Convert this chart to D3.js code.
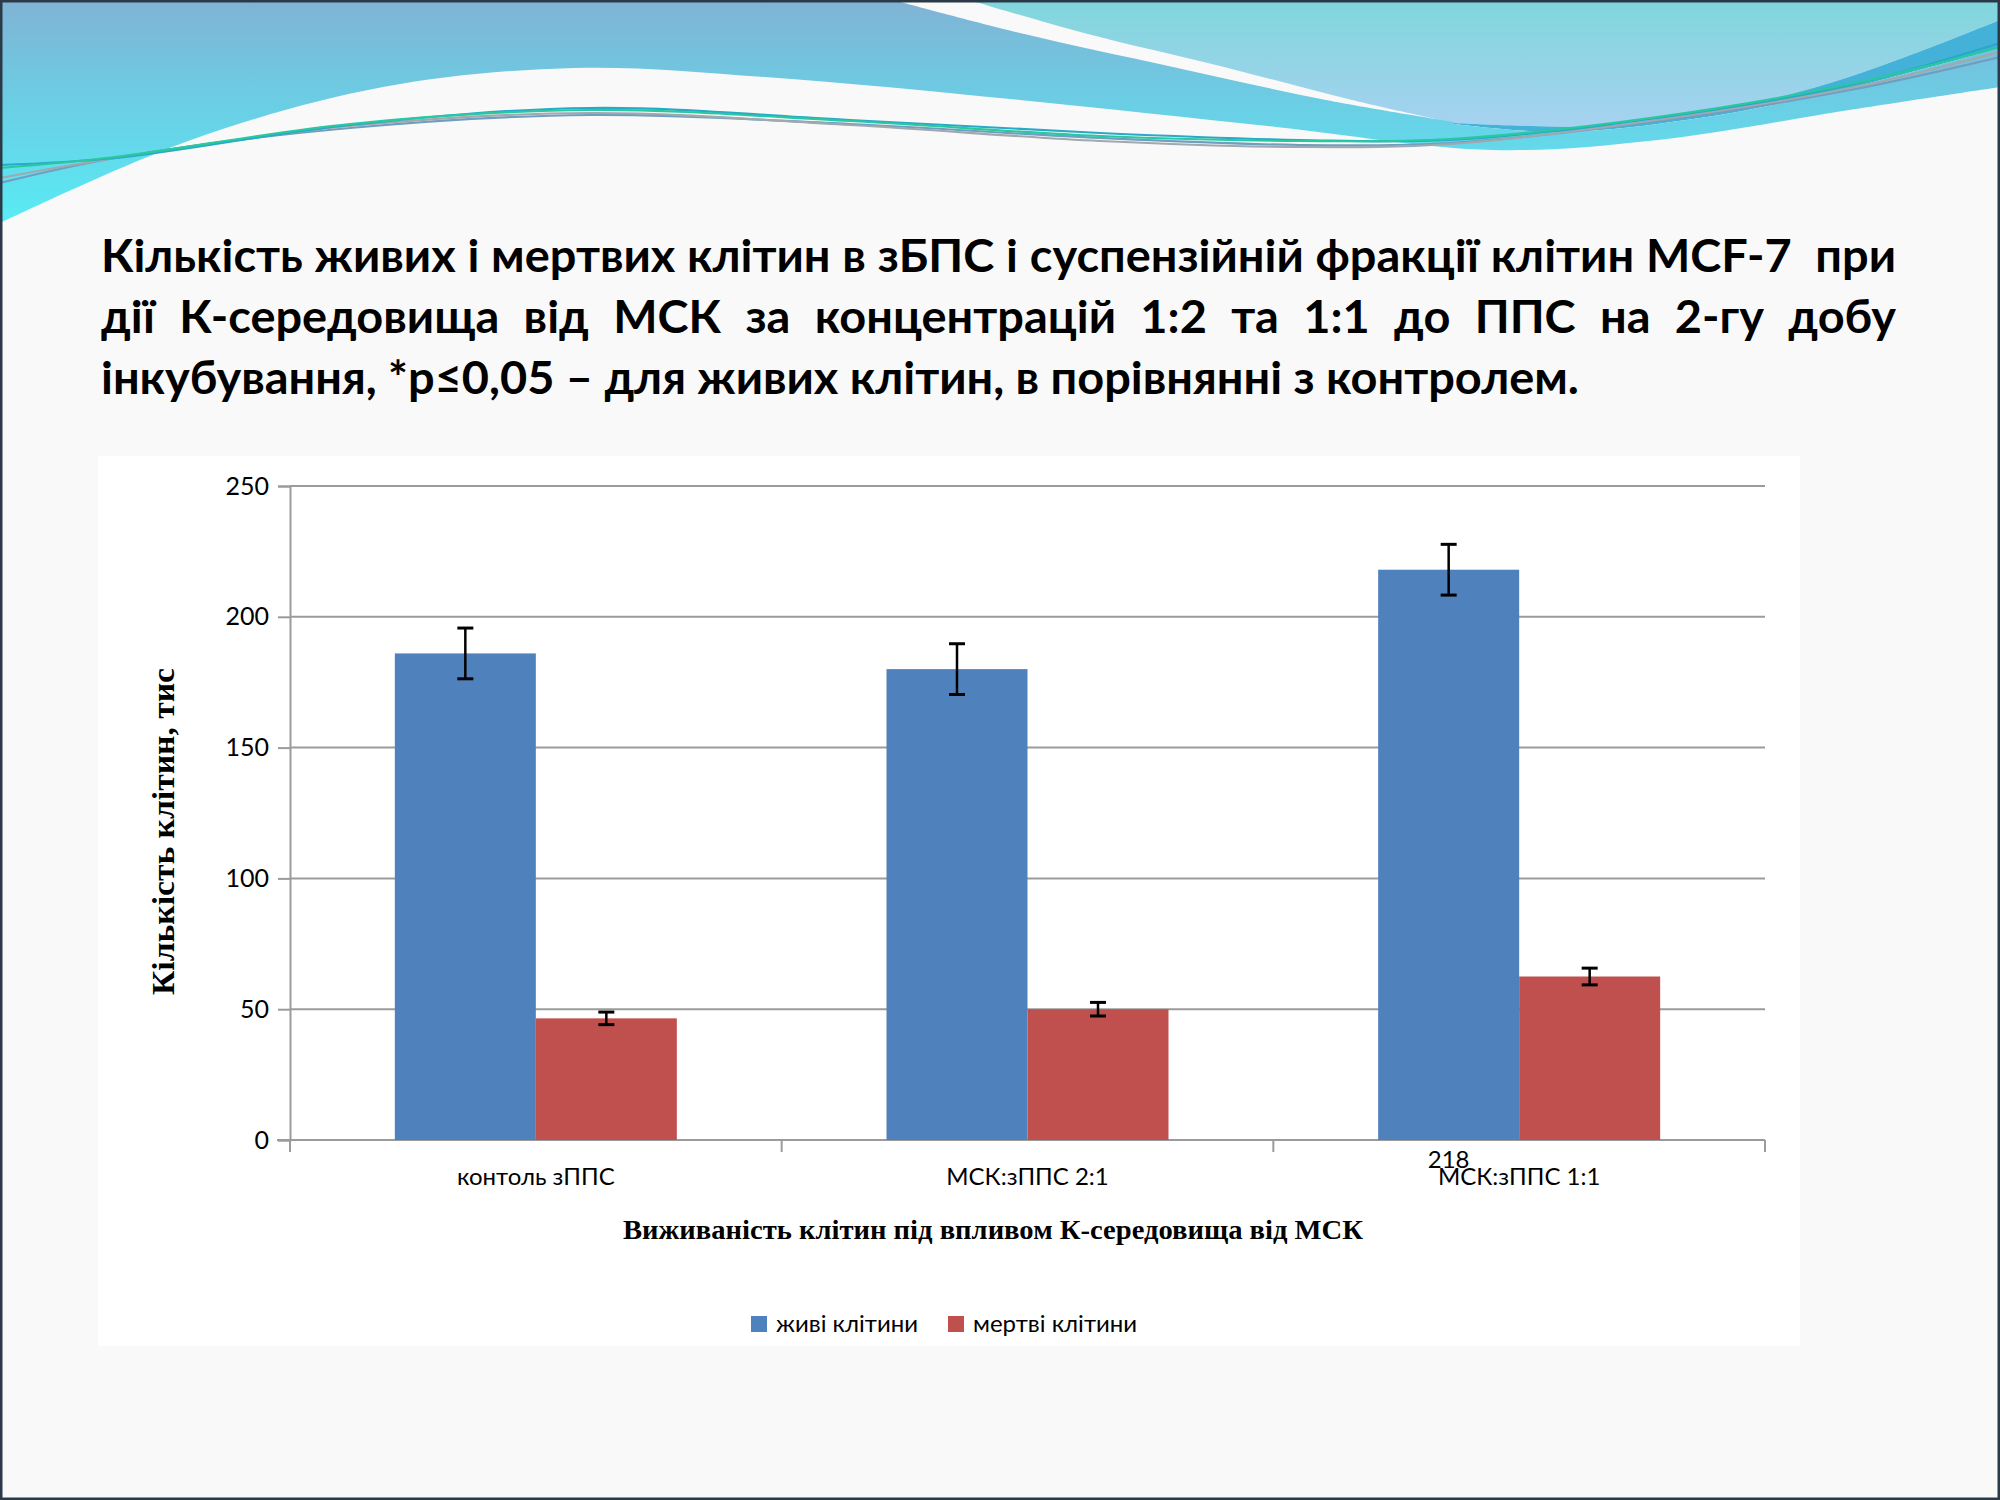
<!DOCTYPE html>
<html>
<head>
<meta charset="utf-8">
<script src="https://cdn.jsdelivr.net/npm/d3@7"></script>
<style>
  body { margin: 0; background: #fff; }
  svg { display: block; }
</style>
</head>
<body>
<div id="chart"></div>
<script>
// chart data
const categories = ["контоль зППС", "МСК:зППС 2:1", "МСК:зППС 1:1"];
const seriesNames = ["живі клітини", "мертві клітини"];
const liveCells = [186, 180, 218];
const liveErr = [9.7, 9.7, 9.7];
const deadCells = [46.5, 50, 62.5];
const deadErr = [2.4, 2.6, 3.2];
const yTicks = [0, 50, 100, 150, 200, 250];

const titleLines = [
  "Кількість живих і мертвих клітин в зБПС і суспензійній фракції клітин MCF-7  при",
  "дії  К-середовища  від  МСК  за  концентрацій  1:2  та  1:1  до  ППС  на  2-гу  добу",
  "інкубування, *p≤0,05 – для живих клітин, в порівнянні з контролем."
];
const yTitle = "Кількість клітин, тис";
const xTitle = "Виживаність клітин під впливом К-середовища від МСК";

const colors = ["#4f81bd", "#c0504d"];

const W = 2000, H = 1500;
const svg = d3.select("#chart").append("svg")
  .attr("width", W)
  .attr("height", H);

// slide background
svg.append("rect").attr("width", W).attr("height", H).attr("fill", "#f9f9f9");

// top wave decoration
const defs = svg.append("defs");
const gA = defs.append("linearGradient").attr("id", "gA")
  .attr("gradientUnits", "userSpaceOnUse")
  .attr("x1", 0).attr("y1", 0).attr("x2", 0).attr("y2", 223);
gA.append("stop").attr("offset", 0).attr("stop-color", "#80b3d4");
gA.append("stop").attr("offset", 0.45).attr("stop-color", "#6bcde4");
gA.append("stop").attr("offset", 1).attr("stop-color", "#58ecf5");
const gB = defs.append("linearGradient").attr("id", "gB")
  .attr("gradientUnits", "userSpaceOnUse")
  .attr("x1", 0).attr("y1", 0).attr("x2", 0).attr("y2", 126);
gB.append("stop").attr("offset", 0).attr("stop-color", "#80d6dc");
gB.append("stop").attr("offset", 1).attr("stop-color", "#a6d2f0");

const waveBottom = [[0, 223], [191, 140], [383, 87], [574, 68], [765, 77], [1020, 100], [1276, 127], [1492, 150], [1658, 140], [1849, 110], [2000, 87]];
const edgeA = [[893, 0], [1020, 33], [1173, 67], [1326, 100], [1454, 122]];
const edgeB = [[969, 0], [1084, 33], [1224, 67], [1352, 100], [1454, 123]];
const edgeBlow = [[1454, 123], [1531, 126], [1594, 126], [1722, 110], [1849, 77], [2000, 20]];
const edgeClow = [[1454, 124], [1560, 132], [1700, 118], [1849, 88], [2000, 48]];
const waveLines = [
  { c: "#6f9fc0", p: [[0, 183], [115, 158], [350, 128], [590, 115], [850, 124], [1100, 138], [1300, 145], [1450, 143], [1650, 122], [1850, 90], [2000, 57]] },
  { c: "#a0a8b0", p: [[0, 178], [115, 158], [350, 126], [590, 113], [850, 125], [1100, 141], [1300, 147], [1450, 144], [1650, 121], [1850, 88], [2000, 52]] },
  { c: "#2aa8c8", p: [[0, 165], [115, 158], [350, 125], [590, 108], [850, 120], [1100, 133], [1300, 140], [1450, 140], [1650, 119], [1850, 85], [2000, 43]] },
  { c: "#28c8a0", p: [[0, 168], [115, 157], [350, 124], [590, 110], [850, 121], [1100, 136], [1300, 141], [1450, 139], [1650, 118], [1850, 84], [2000, 47]] }
];

const curve = d3.line().curve(d3.curveCatmullRom);
const seg = pts => curve(pts).slice(1); // drop the leading M

const deco = svg.append("g");
deco.append("path")
  .attr("d", "M969,0L2000,0L" + seg(edgeBlow.slice().reverse()) + "L" + seg(edgeB.slice().reverse()) + "Z")
  .attr("fill", "url(#gB)");
deco.append("path")
  .attr("d", "M" + seg(edgeBlow) + "L" + seg(edgeClow.slice().reverse()) + "Z")
  .attr("fill", "#44b2d8");
deco.append("path")
  .attr("d", "M0,0L" + seg(edgeA) + "L" + seg(edgeClow) + "L" + seg(waveBottom.slice().reverse()) + "Z")
  .attr("fill", "url(#gA)");
deco.selectAll("path.wl")
  .data(waveLines)
  .enter()
  .append("path")
  .attr("class", "wl")
  .attr("d", d => curve(d.p))
  .attr("fill", "none")
  .attr("stroke", d => d.c)
  .attr("stroke-width", 2.2);

// title, justified like the slide
const titleFont = "Lato, 'Open Sans', sans-serif";
const titleSize = 46;
const tx0 = 101, tx1 = 1896, line3Width = 1478;
const tg = svg.append("g");
const probe = tg.append("text")
  .attr("font-family", titleFont).attr("font-weight", "bold").attr("font-size", titleSize)
  .text(titleLines[2]);
const k = line3Width / probe.node().getComputedTextLength();
probe.remove();
tg.attr("transform", `translate(${tx0},0) scale(${k},1)`);
const avail = (tx1 - tx0) / k;
const baselines = [272, 333, 394];
const wordWidth = t => t.text() ? t.node().getComputedTextLength() : 0;
titleLines.forEach((line, li) => {
  const words = line.split(" ");
  const texts = words.map(w => tg.append("text")
    .attr("font-family", titleFont).attr("font-weight", "bold").attr("font-size", titleSize)
    .attr("fill", "#000").attr("y", baselines[li]).text(w));
  const widths = texts.map(wordWidth);
  const total = d3.sum(widths);
  const span = li < 2 ? avail : line3Width / k;
  const gap = (span - total) / (words.length - 1);
  let x = 0;
  texts.forEach((t, i) => { t.attr("x", x); x += widths[i] + gap; });
});

// chart area
svg.append("rect")
  .attr("x", 98).attr("y", 456).attr("width", 1702).attr("height", 890)
  .attr("fill", "#ffffff");

const pLeft = 290, pRight = 1765, pTop = 486, pBottom = 1140;
const x0 = d3.scaleBand().domain(categories).range([pLeft, pRight]).paddingInner(0).paddingOuter(0);
const x1 = d3.scaleBand().domain(seriesNames).range([0, x0.bandwidth()]).paddingInner(0).paddingOuter(0.7435);
const y = d3.scaleLinear().domain([0, 250]).range([pBottom, pTop]);

const sans = "Lato, 'Open Sans', sans-serif";
const grid = svg.append("g");
grid.selectAll("line.grid")
  .data(yTicks.filter(t => t > 0))
  .enter()
  .append("line")
  .attr("class", "grid")
  .attr("x1", pLeft).attr("x2", pRight)
  .attr("y1", d => y(d)).attr("y2", d => y(d))
  .attr("stroke", "#9b9b9b").attr("stroke-width", 2);

// y axis
const yAxis = svg.append("g")
  .attr("transform", `translate(${pLeft},0)`)
  .call(d3.axisLeft(y).tickValues(yTicks).tickSize(12).tickPadding(9));
yAxis.select(".domain").attr("stroke", "#9b9b9b").attr("stroke-width", 2);
yAxis.selectAll(".tick line").attr("stroke", "#9b9b9b").attr("stroke-width", 2);
yAxis.selectAll(".tick text")
  .attr("font-family", sans).attr("font-size", 25).attr("fill", "#000");

// x axis
const xAxis = svg.append("g")
  .attr("transform", `translate(0,${pBottom})`)
  .call(d3.axisBottom(x0).tickSize(0).tickPadding(28));
xAxis.select(".domain").remove();
xAxis.selectAll(".tick text")
  .attr("font-family", sans).attr("font-size", 24).attr("fill", "#000");
xAxis.append("line")
  .attr("x1", pLeft - 13).attr("x2", pRight)
  .attr("stroke", "#9b9b9b").attr("stroke-width", 2);
xAxis.selectAll("line.sep")
  .data(d3.range(categories.length + 1))
  .enter()
  .append("line")
  .attr("class", "sep")
  .attr("x1", i => pLeft + i * x0.bandwidth()).attr("x2", i => pLeft + i * x0.bandwidth())
  .attr("y1", 0).attr("y2", 12)
  .attr("stroke", "#9b9b9b").attr("stroke-width", 2);

// bars
const rows = categories.map((c, i) => ({
  cat: c,
  vals: [
    { s: seriesNames[0], v: liveCells[i], e: liveErr[i] },
    { s: seriesNames[1], v: deadCells[i], e: deadErr[i] }
  ]
}));
const groups = svg.selectAll("g.grp")
  .data(rows)
  .enter()
  .append("g")
  .attr("class", "grp")
  .attr("transform", d => `translate(${x0(d.cat)},0)`);
groups.selectAll("rect")
  .data(d => d.vals)
  .enter()
  .append("rect")
  .attr("x", d => x1(d.s))
  .attr("y", d => y(d.v))
  .attr("width", x1.bandwidth())
  .attr("height", d => y(0) - y(d.v))
  .attr("fill", (d, i) => colors[i]);

// error bars
const eb = groups.selectAll("g.err")
  .data(d => d.vals)
  .enter()
  .append("g")
  .attr("class", "err")
  .attr("transform", d => `translate(${x1(d.s) + x1.bandwidth() / 2},0)`);
eb.append("line")
  .attr("y1", d => y(d.v + d.e)).attr("y2", d => y(d.v - d.e))
  .attr("stroke", "#000").attr("stroke-width", 2.5);
eb.selectAll("line.cap")
  .data(d => [d.v + d.e, d.v - d.e])
  .enter()
  .append("line")
  .attr("class", "cap")
  .attr("x1", -8).attr("x2", 8)
  .attr("y1", d => y(d)).attr("y2", d => y(d))
  .attr("stroke", "#000").attr("stroke-width", 3);

// stray data label for the last live bar (sits on the category label, as in the slide)
const lastIdx = categories.length - 1;
svg.append("text")
  .attr("x", x0(categories[lastIdx]) + x1(seriesNames[0]) + x1.bandwidth() / 2)
  .attr("y", pBottom + 28)
  .attr("text-anchor", "middle")
  .attr("font-family", sans).attr("font-size", 24).attr("fill", "#000")
  .text(d3.format("d")(liveCells[lastIdx]));

// axis titles
svg.append("text")
  .attr("transform", `translate(174,${(668 + 995) / 2}) rotate(-90)`)
  .attr("text-anchor", "middle")
  .attr("font-family", "'Liberation Serif', 'Times New Roman', serif")
  .attr("font-weight", "bold").attr("font-size", 32)
  .attr("textLength", 327).attr("lengthAdjust", "spacingAndGlyphs")
  .text(yTitle);
svg.append("text")
  .attr("x", 993).attr("y", 1239)
  .attr("text-anchor", "middle")
  .attr("font-family", "'Liberation Serif', 'Times New Roman', serif")
  .attr("font-weight", "bold").attr("font-size", 28)
  .attr("textLength", 740).attr("lengthAdjust", "spacingAndGlyphs")
  .text(xTitle);

// legend
const legend = svg.append("g").attr("transform", "translate(751,1324)");
const lx = [0, 197];
const li = legend.selectAll("g")
  .data(seriesNames)
  .enter()
  .append("g")
  .attr("transform", (d, i) => `translate(${lx[i]},0)`);
li.append("rect")
  .attr("x", 0).attr("y", -8).attr("width", 16).attr("height", 16)
  .attr("fill", (d, i) => colors[i]);
li.append("text")
  .attr("x", 25).attr("y", 8)
  .attr("font-family", sans).attr("font-size", 24).attr("fill", "#000")
  .text(d => d);

// slide frame
svg.append("rect")
  .attr("x", 1).attr("y", 1).attr("width", W - 2).attr("height", H - 2)
  .attr("fill", "none").attr("stroke", "#2a3a48").attr("stroke-width", 3);
</script>
</body>
</html>
